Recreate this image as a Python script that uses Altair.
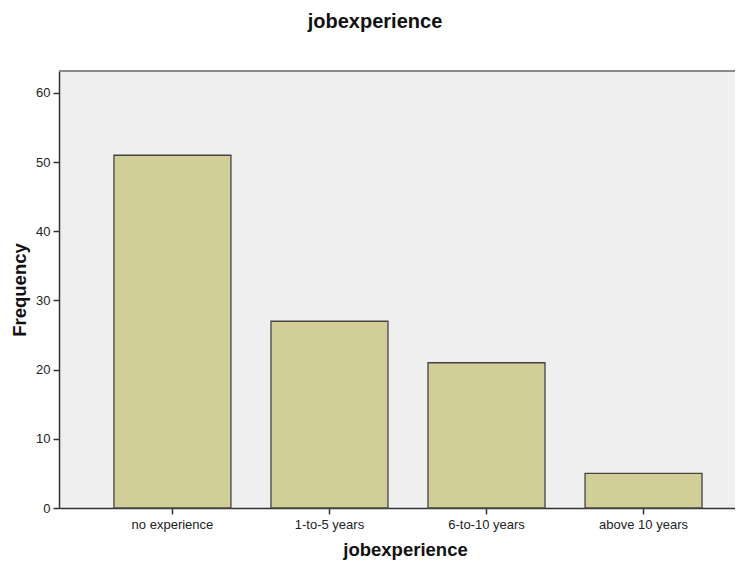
import altair as alt
import pandas as pd

categories = ["no experience", "1-to-5 years", "6-to-10 years", "above 10 years"]
frequency = [51, 27, 21, 5]

df = pd.DataFrame({"jobexperience": categories, "Frequency": frequency})

W = 676
H = 437
FONT = "Liberation Sans"

bars = alt.Chart(df).mark_bar(
    color="#D2CE98", stroke="#444444", strokeWidth=1.3
).encode(
    x=alt.X(
        "jobexperience:N",
        sort=categories,
        title="jobexperience",
        scale=alt.Scale(paddingInner=0.255, paddingOuter=0.28, align=0.625),
        axis=alt.Axis(
            labelAngle=0, labelFontSize=13, labelFont=FONT, labelColor="#222222",
            tickSize=6, tickColor="#333333", tickWidth=1.5,
            domainColor="#333333", domainWidth=1.5,
            labelPadding=4,
            titleFont=FONT, titleFontSize=18.5, titleFontWeight="bold", titleColor="#111111",
            titlePadding=9, titleX=346,
        ),
    ),
    y=alt.Y(
        "Frequency:Q",
        title="Frequency",
        scale=alt.Scale(domain=[0, 63.18], nice=False),
        axis=alt.Axis(
            values=[0, 10, 20, 30, 40, 50, 60], grid=False,
            labelFontSize=13, labelFont=FONT, labelColor="#222222",
            tickSize=6, tickColor="#333333", tickWidth=1.5,
            domainColor="#333333", domainWidth=1.5,
            labelPadding=3,
            titleFont=FONT, titleFontSize=18.5, titleFontWeight="bold", titleColor="#111111",
            titlePadding=6,
        ),
    ),
)

top_border = alt.Chart(df).mark_rule(color="#888888", strokeWidth=1.5).encode(
    x=alt.value(0), x2=alt.value(W), y=alt.value(0)
)

chart = alt.layer(bars, top_border).properties(
    width=W,
    height=H,
    title=alt.TitleParams(
        "jobexperience", font=FONT, fontSize=20, fontWeight="bold", color="#111111",
        anchor="middle", offset=38, dx=-22,
    ),
    autosize=alt.AutoSizeParams(type="none"),
    padding={"left": 51, "top": 63, "right": 0, "bottom": 55},
).configure(
    background="white"
).configure_view(
    fill="#EFEFEF", stroke=None
)

chart.save("out.html", embed_options={"renderer": "svg", "actions": False})
